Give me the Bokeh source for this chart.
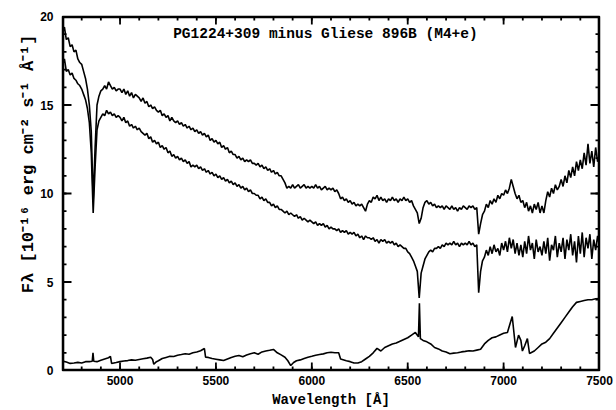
import numpy as np
from bokeh.plotting import figure
from bokeh.models import Range1d, Label, SingleIntervalTicker, Title
from bokeh.embed import file_html
from bokeh.resources import INLINE

# ---------------- data ----------------
title_text = "PG1224+309 minus Gliese 896B (M4+e)"
x_label = "Wavelength [Å]"
y_label = "Fλ [10⁻¹⁶ erg cm⁻² s⁻¹ Å⁻¹]"

x_major_ticks = [5000, 5500, 6000, 6500, 7000, 7500]
x_minor_ticks = list(range(4700, 7501, 100))
y_major_ticks = [0, 5, 10, 15, 20]
y_minor_ticks = list(range(0, 21, 1))

wl_grid = np.arange(4700, 7501, 10)  # wavelength sampling of the two upper spectra

# upper spectrum (PG1224+309 composite)
flux_upper = [
    19.1, 19.4, 18.7, 18.8, 18.3, 18.4, 18.0, 18.1, 17.6, 17.4,   # 4700
    17.3, 16.9, 16.5, 15.9, 15.0, 13.5, 9.6, 12.6, 15.0, 15.5,    # 4800
    15.8, 15.9, 16.1, 15.9, 16.3, 16.1, 15.9, 16.0, 15.8, 15.9,   # 4900
    15.9, 15.7, 15.9, 15.6, 15.8, 15.5, 15.7, 15.4, 15.6, 15.5,   # 5000
    15.4, 15.2, 15.4, 15.1, 15.2, 14.9, 15.0, 14.8, 14.9, 14.7,   # 5100
    14.6, 14.7, 14.4, 14.5, 14.3, 14.4, 14.1, 14.3, 14.1, 14.0,   # 5200
    14.1, 13.9, 14.0, 13.8, 13.9, 13.7, 13.8, 13.6, 13.7, 13.5,   # 5300
    13.6, 13.4, 13.5, 13.3, 13.4, 13.2, 13.3, 13.0, 13.1, 12.9,   # 5400
    13.0, 12.8, 12.9, 12.6, 12.7, 12.5, 12.6, 12.3, 12.4, 12.2,   # 5500
    12.2, 12.0, 12.1, 11.9, 12.0, 11.8, 11.9, 11.8, 11.9, 11.7,   # 5600
    11.7, 11.6, 11.7, 11.5, 11.6, 11.4, 11.5, 11.3, 11.4, 11.2,   # 5700
    11.3, 11.1, 11.2, 11.0, 11.0, 10.8, 10.6, 10.3, 10.4, 10.3,   # 5800
    10.5, 10.3, 10.4, 10.5, 10.3, 10.4, 10.5, 10.3, 10.4, 10.3,   # 5900
    10.4, 10.3, 10.5, 10.3, 10.4, 10.2, 10.3, 10.4, 10.2, 10.3,   # 6000
    10.2, 10.3, 10.1, 10.2, 10.0, 9.7, 9.8, 9.6, 9.7, 9.5,        # 6100
    9.6, 9.4, 9.5, 9.3, 9.4, 9.3, 9.4, 9.2, 9.0, 9.4,             # 6200
    9.6, 9.5, 9.8, 9.7, 9.9, 9.6, 9.8, 9.6, 9.7, 9.5,             # 6300
    9.7, 9.6, 9.8, 9.6, 9.7, 9.5, 9.7, 9.6, 9.8, 9.6,             # 6400
    9.7, 9.5, 9.6, 9.3, 9.1, 8.9, 8.3, 8.6, 9.2, 9.5,             # 6500
    9.6, 9.4, 9.5, 9.3, 9.4, 9.2, 9.3, 9.2, 9.3, 9.1,             # 6600
    9.3, 9.2, 9.1, 9.3, 9.1, 9.2, 9.0, 9.2, 9.1, 9.3,             # 6700
    9.2, 9.1, 9.3, 9.2, 9.3, 9.1, 9.2, 7.7, 8.3, 8.8,             # 6800
    9.0, 9.4, 9.2, 9.6, 9.4, 9.7, 9.5, 9.9, 9.7, 10.0,            # 6900
    9.9, 10.2, 10.0, 10.3, 10.8, 10.4, 10.0, 9.7, 9.9, 9.5,       # 7000
    9.6, 9.2, 9.5, 9.0, 9.3, 8.9, 9.4, 9.1, 9.5, 8.9,             # 7100
    9.3, 8.9, 9.6, 10.1, 9.8, 10.3, 10.0, 10.5, 10.2, 10.4,       # 7200
    10.8, 10.4, 11.0, 10.6, 11.3, 10.9, 11.5, 11.0, 11.8, 11.3,   # 7300
    11.9, 11.4, 12.3, 11.6, 12.8, 11.7, 12.4, 11.5, 12.6, 11.8,   # 7400
    12.0,
]

# middle spectrum (after subtracting Gliese 896B)
flux_middle = [
    17.3, 17.6, 16.9, 17.0, 16.7, 16.8, 16.5, 16.4, 16.2, 16.1,   # 4700
    15.9, 15.6, 15.3, 14.8, 14.0, 12.3, 8.9, 11.5, 13.6, 14.1,    # 4800
    14.3, 14.5, 14.4, 14.7, 14.5, 14.6, 14.4, 14.5, 14.3, 14.4,   # 4900
    14.3, 14.1, 14.3, 14.0, 14.1, 13.8, 13.9, 13.7, 13.8, 13.6,   # 5000
    13.7, 13.5, 13.4, 13.3, 13.4, 13.1, 13.2, 12.9, 13.0, 12.8,   # 5100
    12.9, 12.6, 12.7, 12.5, 12.6, 12.3, 12.4, 12.1, 12.2, 12.0,   # 5200
    12.1, 11.9, 12.0, 11.8, 11.9, 11.7, 11.8, 11.5, 11.6, 11.5,   # 5300
    11.6, 11.4, 11.5, 11.3, 11.4, 11.2, 11.3, 11.1, 11.2, 11.0,   # 5400
    11.1, 10.9, 11.0, 10.8, 10.9, 10.7, 10.8, 10.6, 10.7, 10.5,   # 5500
    10.6, 10.4, 10.5, 10.3, 10.4, 10.2, 10.3, 10.1, 10.2, 10.0,   # 5600
    10.0, 9.9, 9.9, 9.7, 9.8, 9.6, 9.7, 9.5, 9.5, 9.3,            # 5700
    9.4, 9.2, 9.3, 9.1, 9.1, 9.0, 8.9, 9.0, 8.8, 8.9,             # 5800
    8.8, 8.7, 8.8, 8.6, 8.7, 8.5, 8.6, 8.5, 8.4, 8.5,             # 5900
    8.4, 8.3, 8.4, 8.2, 8.3, 8.2, 8.3, 8.1, 8.2, 8.0,             # 6000
    8.1, 8.0, 8.0, 7.9, 8.0, 7.8, 7.9, 7.8, 7.9, 7.7,             # 6100
    7.8, 7.7, 7.8, 7.6, 7.7, 7.5, 7.6, 7.4, 7.6, 7.5,             # 6200
    7.5, 7.4, 7.5, 7.3, 7.4, 7.2, 7.4, 7.3, 7.4, 7.2,             # 6300
    7.3, 7.2, 7.3, 7.1, 7.2, 7.0, 7.1, 7.0, 6.9, 6.9,             # 6400
    6.7, 6.6, 6.4, 6.2, 5.9, 5.6, 4.1, 5.5, 5.9, 6.3,             # 6500
    6.5, 6.7, 6.8, 6.7, 6.9, 6.9, 7.0, 6.9, 7.1, 7.0,             # 6600
    7.2, 7.1, 7.2, 7.1, 7.3, 7.1, 7.2, 7.0, 7.2, 7.1,             # 6700
    7.2, 7.1, 7.3, 7.1, 7.2, 7.0, 7.1, 4.4, 5.6, 6.2,             # 6800
    6.4, 6.8, 6.5, 7.0, 6.6, 7.1, 6.7, 6.9, 6.5, 7.2,             # 6900
    6.8, 7.3, 6.7, 7.5, 6.9, 7.4, 6.6, 7.2, 6.5, 7.1,             # 7000
    6.4, 7.3, 6.6, 7.6, 6.8, 7.2, 6.3, 7.4, 6.7, 7.0,             # 7100
    6.5, 7.3, 6.6, 7.5, 6.2, 7.1, 6.8, 7.6, 6.4, 7.2,             # 7200
    6.7, 7.5, 6.3, 7.4, 6.8, 7.7, 6.5, 7.3, 6.1, 7.6,             # 7300
    6.6, 7.8, 6.4, 7.5, 6.9, 7.7, 6.3, 7.4, 6.8, 7.6,             # 7400
    7.0,
]

# lower spectrum (Gliese 896B)
wl_lower = [
    4700, 4720, 4740, 4760, 4780, 4800, 4820, 4840, 4855, 4859, 4863, 4880,
    4900, 4920, 4940, 4950, 4956, 4980, 5000, 5020, 5040, 5060, 5080, 5100,
    5120, 5140, 5160, 5170, 5176, 5190, 5200, 5220, 5240, 5260, 5280, 5300,
    5320, 5340, 5360, 5380, 5400, 5420, 5440, 5446, 5460, 5480, 5500, 5520,
    5540, 5560, 5580, 5600, 5620, 5640, 5660, 5680, 5700, 5720, 5740, 5760,
    5780, 5800, 5820, 5840, 5860, 5875, 5890, 5905, 5920, 5940, 5960, 5980,
    6000, 6020, 6040, 6060, 6080, 6100, 6120, 6140, 6150, 6180, 6200, 6220,
    6240, 6260, 6280, 6300, 6320, 6340, 6360, 6380, 6400, 6420, 6440, 6460,
    6480, 6500, 6520, 6540, 6556, 6561, 6566, 6580, 6600, 6620, 6640, 6660,
    6680, 6700, 6720, 6740, 6760, 6780, 6800, 6820, 6840, 6860, 6880, 6900,
    6920, 6940, 6960, 6980, 7000, 7020, 7035, 7045, 7062, 7078, 7090, 7098,
    7110, 7124, 7135, 7160, 7180, 7200, 7220, 7240, 7260, 7280, 7300, 7320,
    7340, 7360, 7380, 7400, 7420, 7440, 7460, 7480, 7500,
]
flux_lower = [
    0.53, 0.48, 0.40, 0.42, 0.46, 0.42, 0.50, 0.50, 0.52, 1.00, 0.52, 0.50,
    0.58, 0.65, 0.72, 0.80, 0.40, 0.45, 0.50, 0.54, 0.56, 0.60, 0.58, 0.62,
    0.66, 0.70, 0.75, 0.62, 0.35, 0.50, 0.55, 0.68, 0.74, 0.80, 0.79, 0.86,
    0.90, 0.95, 0.92, 1.00, 1.05, 1.12, 1.24, 0.75, 0.74, 0.68, 0.64, 0.60,
    0.56, 0.65, 0.74, 0.80, 0.85, 0.78, 0.88, 0.95, 1.00, 0.92, 1.05, 1.10,
    1.14, 1.19, 1.00, 0.88, 0.75, 0.55, 0.28, 0.45, 0.55, 0.60, 0.68, 0.75,
    0.80, 0.86, 0.90, 0.94, 1.00, 1.03, 1.00, 1.00, 0.65, 0.55, 0.50, 0.42,
    0.42, 0.50, 0.65, 0.80, 1.00, 1.25, 1.10, 1.30, 1.40, 1.50, 1.55, 1.65,
    1.75, 1.85, 2.00, 2.15, 1.90, 3.80, 1.80, 1.70, 1.62, 1.50, 1.30, 1.22,
    1.10, 1.05, 0.95, 0.98, 1.00, 1.05, 1.08, 1.12, 1.10, 1.15, 1.20, 1.50,
    1.70, 1.85, 1.90, 2.00, 2.10, 2.15, 2.70, 3.05, 1.30, 2.00, 1.70, 1.10,
    1.40, 1.80, 0.96, 1.10, 1.30, 1.50, 1.60, 1.80, 2.10, 2.40, 2.70, 3.00,
    3.30, 3.60, 3.85, 3.90, 3.95, 4.00, 4.00, 4.05, 4.07,
]

assert len(flux_upper) == len(wl_grid) == len(flux_middle)
assert len(wl_lower) == len(flux_lower)

# ---------------- layout / styling ----------------
MONO = "Liberation Mono"
SANS = "Liberation Sans"
W, H = 616, 410
BL, BR, BT, BB = 62, 17, 16, 40
X0, X1 = 4700, 7500
Y0, Y1 = 0, 20

p = figure(
    width=W, height=H,
    x_range=Range1d(X0, X1), y_range=Range1d(Y0, Y1),
    output_backend="svg", toolbar_location=None,
    min_border_left=BL, min_border_right=BR, min_border_top=BT, min_border_bottom=BB,
    background_fill_color="white", border_fill_color="white",
)
p.xgrid.visible = False
p.ygrid.visible = False
p.outline_line_color = "black"
p.outline_line_width = 1.5

p.xaxis.ticker = SingleIntervalTicker(interval=500, num_minor_ticks=5)
p.yaxis.ticker = SingleIntervalTicker(interval=5, num_minor_ticks=5)

for ax in p.xaxis + p.yaxis:
    ax.major_tick_in = 0
    ax.major_tick_out = 0
    ax.minor_tick_in = 0
    ax.minor_tick_out = 0
    ax.major_tick_line_color = None
    ax.minor_tick_line_color = None
    ax.axis_line_color = None
    ax.major_label_text_font = SANS
    ax.major_label_text_font_style = "bold"
    ax.major_label_text_font_size = "12px"
    ax.major_label_text_color = "black"

p.xaxis.major_label_standoff = 5
p.yaxis.major_label_standoff = 9
p.xaxis.axis_label = x_label
p.xaxis.axis_label_text_font = MONO
p.xaxis.axis_label_text_font_style = "bold"
p.xaxis.axis_label_text_font_size = "14px"
p.xaxis.axis_label_text_color = "black"
p.xaxis.axis_label_standoff = 4

# frame and inward ticks drawn as thin filled quads (pixel sizes -> data units)
FW, FH = W - BL - BR, H - BT - BB
dx = (X1 - X0) / FW   # data units per pixel
dy = (Y1 - Y0) / FH
T = 1.8  # stroke thickness in px
qL, qR, qB, qT = [], [], [], []
# frame edges
qL += [X0, X1 - T * dx, X0, X0]
qR += [X0 + T * dx, X1, X1, X1]
qB += [Y0, Y0, Y0, Y1 - T * dy]
qT += [Y1, Y1, Y0 + T * dy, Y1]
for xs, L in ((x_major_ticks, 8), (x_minor_ticks, 4)):
    for xv in xs:
        for yb, yt in ((Y0, Y0 + L * dy), (Y1 - L * dy, Y1)):
            qL.append(xv - T / 2 * dx)
            qR.append(xv + T / 2 * dx)
            qB.append(yb)
            qT.append(yt)
for ys, L in ((y_major_ticks, 9), (y_minor_ticks, 4)):
    for yv in ys:
        for xl, xr in ((X0, X0 + L * dx), (X1 - L * dx, X1)):
            qL.append(xl)
            qR.append(xr)
            qB.append(yv - T / 2 * dy)
            qT.append(yv + T / 2 * dy)
p.quad(left=qL, right=qR, bottom=qB, top=qT, fill_color="black", line_color=None)

# spectra
p.line(wl_grid, flux_upper, line_color="black", line_width=1.6)
p.line(wl_grid, flux_middle, line_color="black", line_width=1.6)
p.line(wl_lower, flux_lower, line_color="black", line_width=1.6)

# title inside the frame
p.add_layout(Label(x=6071, y=19.0, text=title_text, text_align="center",
                   text_baseline="middle", text_font=MONO, text_font_style="bold",
                   text_font_size="14.5px", text_color="black"))

# y-axis label, shifted upward like the reference
p.add_layout(Title(text=y_label, align="right", offset=18, text_font=MONO,
                   text_font_style="bold", text_font_size="17px", text_color="black",
                   standoff=0), "left")

open("out.html", "w").write(file_html(p, INLINE))
